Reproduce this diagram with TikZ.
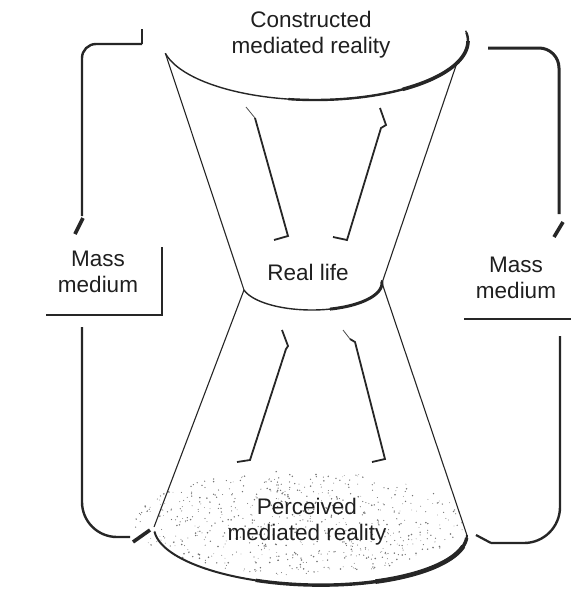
\documentclass[tikz,border=0pt]{standalone}
\usepackage{fontspec}
\setmainfont{Liberation Sans}
\begin{document}
\begin{tikzpicture}[x=1pt,y=-1pt,
  lbl/.style={font=\fontsize{22.5}{26}\selectfont, text=black!88, align=center, inner sep=0pt},
  cone/.style={line width=1.1pt, draw=black!85},
  brk/.style={line width=2.4pt, draw=black!85},
  innerarr/.style={line width=1.8pt, draw=black!85, line join=miter},
  bar/.style={line width=3.6pt, draw=black!85},
  boxline/.style={line width=2pt, draw=black!85},
]
\useasboundingbox (0,0) rectangle (571,590);

% stipple shading of the perceived reality
\pgfmathsetseed{7}
\foreach \i in {1,...,650}{
  \pgfmathsetmacro\ang{360*rnd}
  \pgfmathsetmacro\rr{sqrt(rnd)}
  \pgfmathsetmacro\px{300+165*\rr*cos(\ang)}
  \pgfmathsetmacro\py{523+52*\rr*sin(\ang)}
  \pgfmathsetmacro\ds{0.35+0.55*rnd}
  \fill[black!55] (\px,\py) circle (\ds pt);
}

% top ellipse: constructed mediated reality
\begin{scope}[shift={(315,41)}]
  \coordinate (topL) at (168:153 and 59);
  \coordinate (topR) at (22:153 and 59);
  \draw[line width=1.4pt, black!85] plot[domain=168:-10, samples=90, variable=\t] ({153*cos(\t)},{59*sin(\t)});
  \draw[line width=2.4pt, black!85] plot[domain=100:-8, samples=60, variable=\t] ({153*cos(\t)},{59*sin(\t)});
  \draw[line width=3.6pt, black!85] plot[domain=55:0, samples=40, variable=\t] ({153*cos(\t)},{59*sin(\t)});
\end{scope}

% middle ellipse: real life
\begin{scope}[shift={(311.8,283)}]
  \coordinate (rlL) at (165:70.2 and 27);
  \coordinate (rlR) at (0:70.2 and 27);
  \draw[line width=1.4pt, black!85] plot[domain=165:-6, samples=60, variable=\t] ({70.2*cos(\t)},{27*sin(\t)});
  \draw[line width=3pt, black!85] plot[domain=75:-3, samples=40, variable=\t] ({70.2*cos(\t)},{27*sin(\t)});
\end{scope}

% bottom ellipse: perceived mediated reality
\begin{scope}[shift={(310.5,531)}, rotate=-1.5]
  \coordinate (botL) at (-156.5,0);
  \coordinate (botR) at (156.5,0);
  \draw[line width=2pt, black!85] plot[domain=175:0, samples=90, variable=\t] ({156.5*cos(\t)},{54*sin(\t)});
  \draw[line width=3.4pt, black!85] plot[domain=110:3, samples=60, variable=\t] ({156.5*cos(\t)},{54*sin(\t)});
  \draw[line width=4.6pt, black!85] plot[domain=65:12, samples=40, variable=\t] ({156.5*cos(\t)},{54*sin(\t)});
\end{scope}

% cone lines
\draw[cone] (topL) -- (rlL) -- (botL);
\draw[cone] (topR) -- (rlR) -- (botR);

% inner arrows
\draw[line width=0.8pt, black!70] (246,107) -- (255,118);
\draw[innerarr] (255,118) -- (288,236) -- (274,240);
\draw[innerarr] (380,108) -- (386,125) -- (381,128) -- (347,240) -- (333,237);
\draw[innerarr] (282,330) -- (288,346) -- (286,349) -- (250,460) -- (237,462);
\draw[line width=0.8pt, black!70] (343,330) -- (350,339);
\draw[innerarr] (350,339) -- (355,342) -- (385,459) -- (372,462);

% labels
\node[lbl] (cmr) at (311,35) {Constructed\\mediated reality};
\node[lbl] (rl) at (308,272) {Real life};
\node[lbl] (pmr) at (307,522) {Perceived\\mediated reality};
\node[lbl] (mmL) at (98,272) {Mass\\medium};
\node[lbl] (mmR) at (516,278) {Mass\\medium};

% left box lines
\draw[boxline] (46,315) -- (162,315) -- (162,247);
% right underline
\draw[boxline] (464,319) -- (571,319);

% left feedback bracket (top part)
\coordinate (ltS) at (142,29);
\coordinate (ltC) at (142,44);
\coordinate (ltE) at (82,216);
\draw[brk] (ltS) -- (ltC);
\draw[brk, rounded corners=14pt] (ltC) -- (82,44) -- (ltE);
\draw[bar] (83,218) -- (75,234);

% left bracket (bottom part)
\coordinate (lbS) at (82,327);
\coordinate (lbE) at (130,537);
\draw[brk, rounded corners=35pt] (lbS) -- (82,537) -- (lbE);
\draw[bar] (133,542) -- (150,530);

% right bracket (top part)
\coordinate (rtS) at (488,48);
\coordinate (rtE) at (559,214);
\draw[brk, line width=3pt, rounded corners=20pt] (rtS) -- (559,48) -- (rtE);
\draw[bar] (563,222) -- (554,237);

% right bracket (bottom part)
\coordinate (rbS) at (560,336);
\coordinate (rbE) at (491,543);
\draw[brk, rounded corners=36pt] (rbS) -- (560,543) -- (rbE);
\draw[line width=2.2pt, black!85] (rbE) -- (476,535);
\end{tikzpicture}
\end{document}
